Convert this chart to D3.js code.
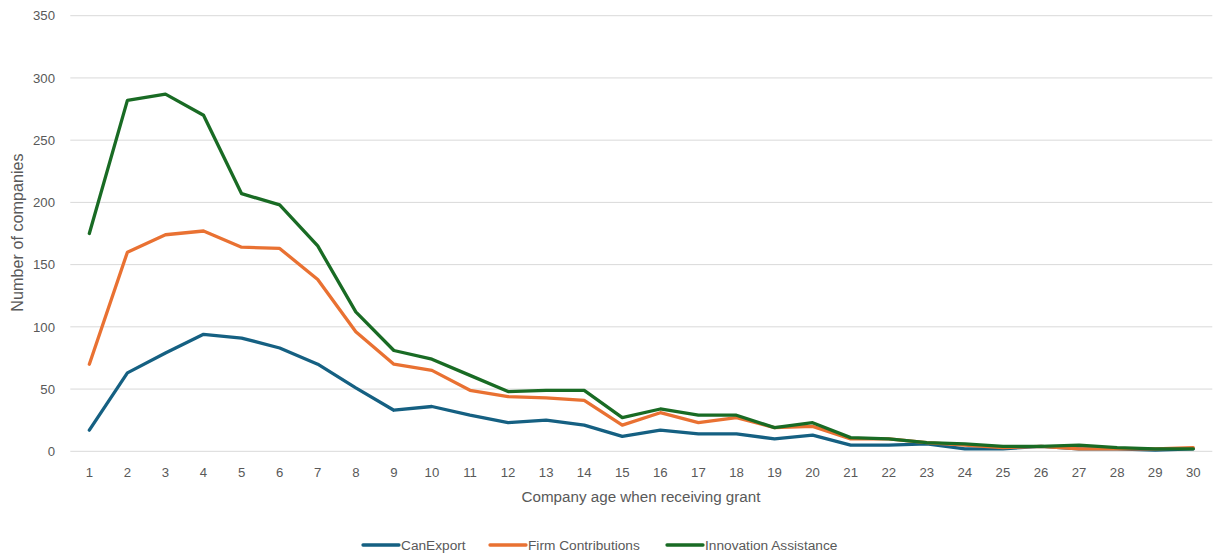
<!DOCTYPE html>
<html><head><meta charset="utf-8">
<script src="https://cdn.jsdelivr.net/npm/d3@7"></script>
<style>
html,body{margin:0;padding:0;background:#fff;}
text{font-family:"Liberation Sans",Arial,sans-serif;fill:#595959;}
</style></head>
<body>
<svg id="c" width="1216" height="557"></svg>
<script>
const ages = d3.range(1, 31).map(String);
const canExport = [17,63,79,94,91,83,70,51,33,36,29,23,25,21,12,17,14,14,10,13,5,5,6,2,2,4,2,2,1,2];
const firmContributions = [70,160,174,177,164,163,138,96,70,65,49,44,43,41,21,31,23,27,19,20,10,10,7,5,3,4,2,2,2,3];
const innovationAssistance = [175,282,287,270,207,198,165,112,81,74,61,48,49,49,27,34,29,29,19,23,11,10,7,6,4,4,5,3,2,2];
const yTicks = [0,50,100,150,200,250,300,350];
const seriesNames = ["CanExport","Firm Contributions","Innovation Assistance"];
const seriesColors = ["#156082","#E97132","#196B24"];
const seriesData = [canExport, firmContributions, innovationAssistance];

(function(){
const svg = d3.select("#c");
const pl = 70.3, pr = 1212.3, pt = 15.7, pb = 451.3;

const x = d3.scaleBand().domain(ages).range([pl, pr]);
const y = d3.scaleLinear().domain([0, 350]).range([pb, pt]);

// gridlines
svg.append("g").selectAll("line").data(yTicks).join("line")
  .attr("x1", pl).attr("x2", pr)
  .attr("y1", d => y(d)).attr("y2", d => y(d))
  .attr("stroke", "#d9d9d9").attr("stroke-width", 1);

// y axis labels
const yAxis = d3.axisLeft(y).tickValues(yTicks).tickSize(0).tickPadding(0);
const gy = svg.append("g").attr("transform", `translate(55,0)`).call(yAxis);
gy.select(".domain").remove();
gy.selectAll("text").attr("font-size", 13.2).style("fill","#595959").attr("font-family","Liberation Sans, Arial, sans-serif");

// x axis labels
const xAxis = d3.axisBottom(x).tickSize(0).tickPadding(0);
const gx = svg.append("g").attr("transform", `translate(0,${pb + 16})`).call(xAxis);
gx.select(".domain").remove();
gx.selectAll("text").attr("font-size", 13.2).style("fill","#595959").attr("font-family","Liberation Sans, Arial, sans-serif");

// lines
const line = d3.line().x((d, i) => x(ages[i]) + x.bandwidth() / 2).y(d => y(d));
svg.append("g").selectAll("path").data(seriesData).join("path")
  .attr("d", d => line(d))
  .attr("fill", "none")
  .attr("stroke", (d, i) => seriesColors[i])
  .attr("stroke-width", 3.3)
  .attr("stroke-linejoin", "round")
  .attr("stroke-linecap", "round");

// axis titles
svg.append("text").attr("x", 641).attr("y", 502).attr("text-anchor", "middle")
  .attr("font-size", 15.2).text("Company age when receiving grant");
svg.append("text").attr("transform", "translate(23,232.5) rotate(-90)").attr("text-anchor", "middle")
  .attr("font-size", 16.2).text("Number of companies");

// legend
const legendX = [363, 490, 667];
const lg = svg.append("g").selectAll("g").data(seriesNames).join("g")
  .attr("transform", (d, i) => `translate(${legendX[i]},545)`);
lg.append("line").attr("x1", 0).attr("x2", 36).attr("y1", 0).attr("y2", 0)
  .attr("stroke", (d, i) => seriesColors[i]).attr("stroke-width", 3.3).attr("stroke-linecap", "round");
lg.append("text").attr("x", 38).attr("y", 5).attr("font-size", 13.7).text(d => d);
})();
</script>
</body></html>
